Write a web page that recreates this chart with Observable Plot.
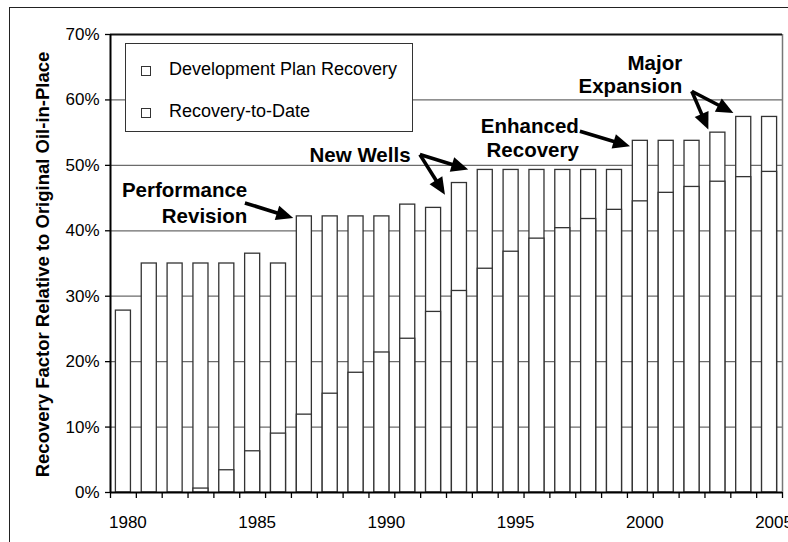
<!DOCTYPE html>
<html>
<head>
<meta charset="utf-8">
<script src="https://cdn.jsdelivr.net/npm/d3@7"></script>
<script src="https://cdn.jsdelivr.net/npm/@observablehq/plot@0.6"></script>
<style>
  html, body { margin: 0; padding: 0; background: white; overflow: hidden; }
  #wrap { position: relative; width: 788px; height: 542px; overflow: hidden; font-family: "Liberation Sans", Arial, sans-serif; }
  #outer { position: absolute; left: 9px; top: 7px; width: 1000px; height: 1000px; border: 1.5px solid #222; box-sizing: border-box; }
  #chart { position: absolute; left: 0; top: 0; }
  #legend { position: absolute; left: 125px; top: 43px; width: 288px; height: 89px; border: 1.4px solid #333; background: white; box-sizing: border-box; }
  .sw { position: absolute; width: 10px; height: 10px; border: 1px solid #333; background: white; box-sizing: border-box; }
  .lt { position: absolute; font-size: 18px; line-height: 18px; color: #000; white-space: nowrap; }
</style>
</head>
<body>
<div id="wrap">
  <div id="outer"></div>
  <div id="chart"></div>
  <div id="legend"></div>
</div>
<script>
// ---- data ----
const years = [1980, 1981, 1982, 1983, 1984, 1985, 1986, 1987, 1988, 1989, 1990, 1991, 1992,
               1993, 1994, 1995, 1996, 1997, 1998, 1999, 2000, 2001, 2002, 2003, 2004, 2005];
const devPlan = [27.8, 35.0, 35.0, 35.0, 35.0, 36.5, 35.0, 42.2, 42.2, 42.2, 42.2, 44.0, 43.5,
                 47.3, 49.3, 49.3, 49.3, 49.3, 49.3, 49.3, 53.75, 53.75, 53.75, 55.0, 57.4, 57.4];
const recoveryToDate = [0, 0, 0, 0.6, 3.4, 6.3, 9.0, 11.9, 15.1, 18.3, 21.4, 23.5, 27.6,
                        30.8, 34.2, 36.8, 38.8, 40.4, 41.8, 43.2, 44.5, 45.8, 46.7, 47.5, 48.2, 49.0];
const seriesNames = ["Development Plan Recovery", "Recovery-to-Date"];
const yTicks = [0, 10, 20, 30, 40, 50, 60, 70];
const gridValues = [10, 20, 30, 40, 50, 60];
const xTickLabels = [1980, 1985, 1990, 1995, 2000, 2005];
const yTitle = "Recovery Factor Relative to Original Oil-in-Place";

// annotations (data coordinates: year, percent)
const annotationLines = ["Performance", "Revision", "New Wells", "Enhanced", "Recovery", "Major", "Expansion"];
const annotationX = [1985.29, 1985.29, 1991.61, 1998.12, 1998.12, 2002.12, 2002.12];
const annotationY = [45.19, 41.13, 50.54, 54.88, 51.31, 64.56, 61.0];
const arrowX1 = [1985.22, 1991.99, 1991.99, 1998.18, 2002.51, 2002.51];
const arrowY1 = [44.18, 51.57, 51.57, 55.13, 61.25, 61.25];
const arrowX2 = [1987.09, 1992.96, 1993.86, 2000.12, 2003.15, 2004.12];
const arrowY2 = [41.89, 45.45, 49.29, 52.84, 55.39, 57.94];

// ---- tables ----
const devRows = years.map((year, i) => ({year, value: devPlan[i]}));
const recRows = years.map((year, i) => ({year, value: recoveryToDate[i]}));
const boundaryTicks = years.concat([years[years.length - 1] + 1]);
const annRows = annotationLines.map((text, i) => ({text, x: annotationX[i], y: annotationY[i]}));
const arrowRows = arrowX1.map((x1, i) => ({x1, y1: arrowY1[i], x2: arrowX2[i], y2: arrowY2[i]}));

const barStyle = {fill: "white", stroke: "#333", strokeWidth: 1.3, insetLeft: 5.4, insetRight: 5.4};

function arrowMark(index, scales) {
  const g = d3.create("svg:g");
  const L = 17, W = 7.5;
  for (const a of arrowRows) {
    const x1 = scales.x(a.x1), y1 = scales.y(a.y1), x2 = scales.x(a.x2), y2 = scales.y(a.y2);
    const ang = Math.atan2(y2 - y1, x2 - x1);
    const c = Math.cos(ang), s = Math.sin(ang);
    const bx = x2 - L * c, by = y2 - L * s;
    g.append("line").attr("x1", x1).attr("y1", y1).attr("x2", bx + c).attr("y2", by + s)
      .attr("stroke", "black").attr("stroke-width", 3.6);
    g.append("path")
      .attr("d", `M${x2},${y2}L${bx - W * s},${by + W * c}L${bx + W * s},${by - W * c}Z`)
      .attr("fill", "black");
  }
  return g.node();
}

const chart = Plot.plot({
  width: 788,
  height: 542,
  marginLeft: 110,
  marginRight: 6,
  marginTop: 34,
  marginBottom: 50,
  x: {type: "linear", domain: [1980, 2006], axis: null},
  y: {domain: [0, 70], axis: null},
  style: {background: "transparent", fontFamily: "'Liberation Sans', Arial, sans-serif", color: "black"},
  marks: [
    Plot.ruleY(gridValues, {stroke: "#6b6b6b", strokeWidth: 1.3}),
    Plot.rect(devRows, {x1: d => d.year, x2: d => d.year + 1, y1: 0, y2: "value", ...barStyle}),
    Plot.rect(recRows, {x1: d => d.year, x2: d => d.year + 1, y1: 0, y2: "value", ...barStyle}),
    Plot.ruleX([2006], {stroke: "#777", strokeWidth: 1.5}),
    Plot.ruleY([70], {stroke: "#111", strokeWidth: 2}),
    Plot.ruleY([0], {stroke: "black", strokeWidth: 2}),
    Plot.ruleX([1980], {stroke: "black", strokeWidth: 2}),
    Plot.axisY(yTicks, {tickSize: 5, tickPadding: 6, tickFormat: d => d + "%", fontSize: 17, strokeWidth: 1.3, label: null}),
    Plot.axisX(boundaryTicks, {tickSize: 6, text: null, strokeWidth: 1.3, label: null}),
    Plot.axisX(xTickLabels, {tickSize: 0, tickPadding: 23, dx: 17.4, fontSize: 17, tickFormat: d => String(d), label: null}),
    Plot.text([yTitle], {frameAnchor: "left", textAnchor: "middle", rotate: -90, dx: -62, dy: 1, lineAnchor: "bottom",
      fontWeight: "bold", fontSize: 18.5, fill: "black"}),
    Plot.text(annRows, {x: "x", y: "y", text: "text", textAnchor: "end", lineAnchor: "bottom",
      fontWeight: "bold", fontSize: 20.5, fill: "black"}),
    arrowMark
  ]
});
document.getElementById("chart").appendChild(chart);

// legend (HTML overlay within plot area)
const wrap = document.getElementById("wrap");
const legendBaselines = [75, 116.7];
seriesNames.forEach((name, i) => {
  const sw = document.createElement("div");
  sw.className = "sw";
  sw.style.left = "141px";
  sw.style.top = (legendBaselines[i] - 9) + "px";
  wrap.appendChild(sw);
  const t = document.createElement("div");
  t.className = "lt";
  t.style.left = "169px";
  t.style.top = (legendBaselines[i] - 15.2) + "px";
  t.textContent = name;
  wrap.appendChild(t);
});
</script>
</body>
</html>
